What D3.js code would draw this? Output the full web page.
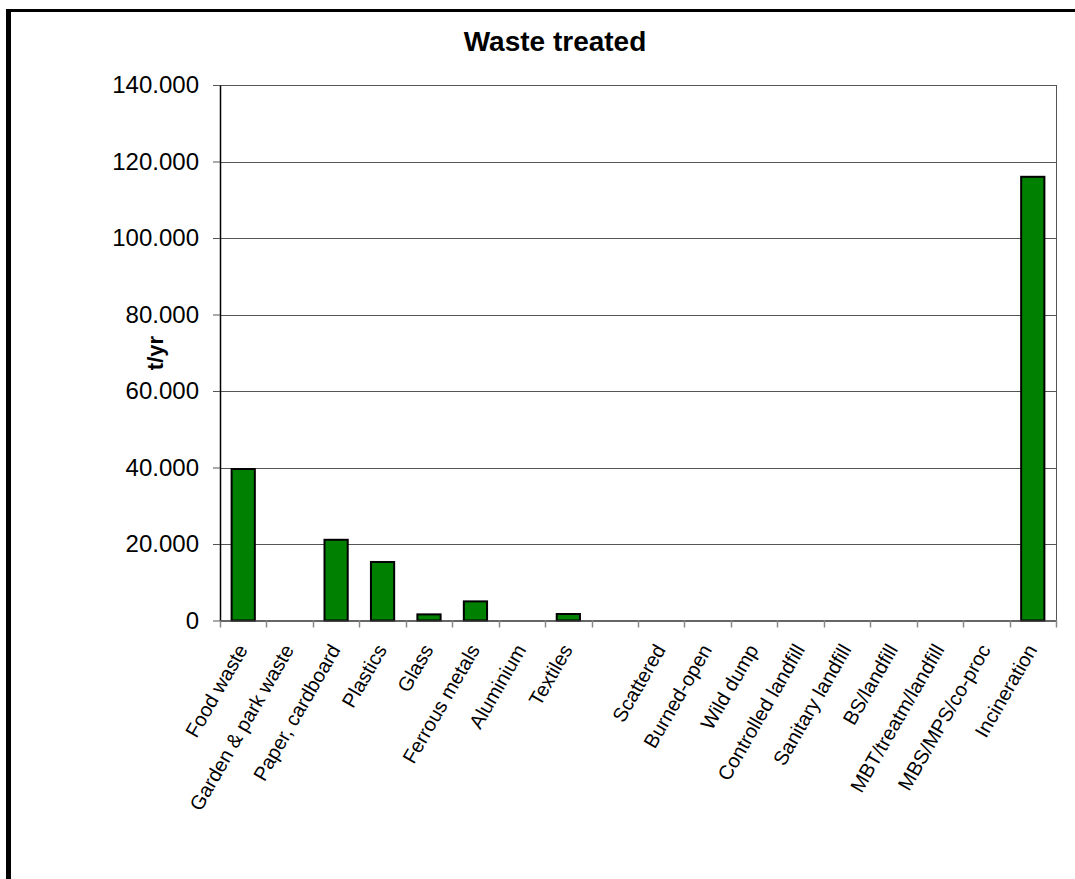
<!DOCTYPE html>
<html>
<head>
<meta charset="utf-8">
<script src="https://cdn.jsdelivr.net/npm/d3@7"></script>
<style>
  body { margin: 0; background: #fff; }
  svg { display: block; font-family: "Liberation Sans", Arial, sans-serif; }
</style>
</head>
<body>
<svg id="chart" width="1075" height="879"></svg>
<script>
// categories (empty slot between Textiles and Scattered)
const categories = [
  "Food waste", "Garden & park waste", "Paper, cardboard", "Plastics", "Glass",
  "Ferrous metals", "Aluminium", "Textiles", "",
  "Scattered", "Burned-open", "Wild dump", "Controlled landfill", "Sanitary landfill",
  "BS/landfill", "MBT/treatm/landfill", "MBS/MPS/co-proc", "Incineration"
];
const values = [39600, 0, 21100, 15300, 1600, 5000, 0, 1700, 0,
  0, 0, 0, 0, 0, 0, 0, 0, 116000];
const yTicks = [0, 20000, 40000, 60000, 80000, 100000, 120000, 140000];

const svg = d3.select("#chart");
const margin = { left: 220, right: 1056, top: 85, bottom: 620.5 };

// outer frame (only left and top edges fall inside the picture)
svg.append("line")
  .attr("x1", 8.5).attr("x2", 8.5).attr("y1", 9).attr("y2", 879)
  .attr("stroke", "#000").attr("stroke-width", 5);
svg.append("line")
  .attr("x1", 6).attr("x2", 1075).attr("y1", 10.5).attr("y2", 10.5)
  .attr("stroke", "#000").attr("stroke-width", 3);

const x = d3.scaleBand()
  .domain(d3.range(categories.length))
  .range([margin.left, margin.right]);

const y = d3.scaleLinear()
  .domain([0, 140000])
  .range([margin.bottom, margin.top]);

const fmt = (v) => v === 0 ? "0" : d3.format(".3f")(v / 1000);

// gridlines
svg.append("g")
  .selectAll("line")
  .data(yTicks.slice(1))
  .join("line")
  .attr("x1", margin.left).attr("x2", margin.right)
  .attr("y1", (d) => Math.round(y(d)) + 0.5).attr("y2", (d) => Math.round(y(d)) + 0.5)
  .attr("stroke", "#555").attr("stroke-width", 1);

// right plot border
svg.append("line")
  .attr("x1", margin.right + 0.5).attr("x2", margin.right + 0.5)
  .attr("y1", margin.top).attr("y2", margin.bottom)
  .attr("stroke", "#555").attr("stroke-width", 1);

// bars (half the band wide, centred)
const barW = x.bandwidth() / 2;
svg.append("g")
  .selectAll("rect")
  .data(values.map((v, i) => ({ v, i })).filter((d) => d.v > 0))
  .join("rect")
  .attr("x", (d) => x(d.i) + (x.bandwidth() - barW) / 2)
  .attr("y", (d) => y(d.v))
  .attr("width", barW)
  .attr("height", (d) => y(0) - y(d.v))
  .attr("fill", "#008000")
  .attr("stroke", "#000")
  .attr("stroke-width", 2);

// y axis
const yAxis = svg.append("g")
  .attr("transform", `translate(${margin.left},0)`)
  .call(d3.axisLeft(y).tickValues(yTicks).tickFormat(fmt).tickSize(7).tickSizeOuter(0));
yAxis.select(".domain").attr("stroke", "#000").attr("stroke-width", 1.5);
yAxis.selectAll(".tick line").attr("stroke", "#555");
yAxis.selectAll(".tick text")
  .attr("x", -21)
  .attr("font-size", "24px")
  .attr("font-family", "Liberation Sans, Arial, sans-serif")
  .attr("fill", "#000");

// x axis
const xAxis = svg.append("g")
  .attr("transform", `translate(0,${margin.bottom})`)
  .call(d3.axisBottom(x).tickFormat(() => "").tickSize(0).tickSizeOuter(0));
xAxis.select(".domain").attr("stroke", "#333").attr("stroke-width", 1.5);

// tick marks at category boundaries
svg.append("g")
  .selectAll("line")
  .data(d3.range(categories.length + 1))
  .join("line")
  .attr("x1", (i) => Math.round(margin.left + i * x.step()) + 0.5)
  .attr("x2", (i) => Math.round(margin.left + i * x.step()) + 0.5)
  .attr("y1", margin.bottom).attr("y2", margin.bottom + 7)
  .attr("stroke", "#888").attr("stroke-width", 1.5);

// category labels
svg.append("g")
  .selectAll("text")
  .data(categories)
  .join("text")
  .attr("transform", (d, i) => `translate(${x(i) + x.bandwidth() / 2 + 5},${margin.bottom + 29}) rotate(-60)`)
  .attr("text-anchor", "end")
  .attr("font-size", "20px")
  .attr("fill", "#000")
  .text((d) => d);

// title
svg.append("text")
  .attr("x", 555).attr("y", 51)
  .attr("text-anchor", "middle")
  .attr("font-size", "28px")
  .attr("font-weight", "bold")
  .text("Waste treated");

// y axis label
svg.append("text")
  .attr("transform", `translate(163,353) rotate(-90)`)
  .attr("text-anchor", "middle")
  .attr("font-size", "22px")
  .attr("font-weight", "bold")
  .text("t/yr");
</script>
</body>
</html>
